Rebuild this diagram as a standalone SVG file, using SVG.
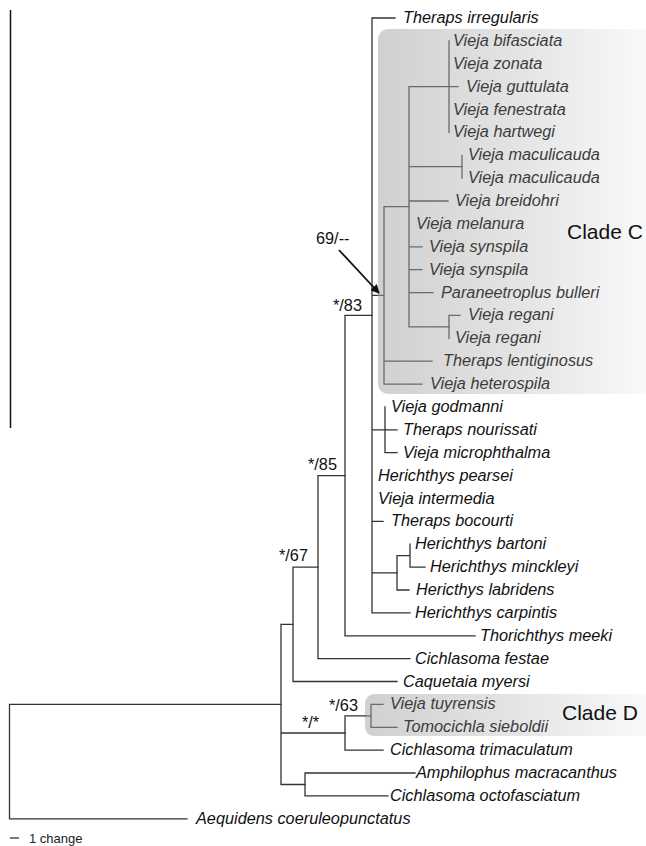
<svg xmlns="http://www.w3.org/2000/svg" width="646" height="846" viewBox="0 0 646 846">
<style>
.br{stroke:#333;stroke-width:1.3;fill:none;stroke-linecap:square}
.bi{stroke:#6a6a6a;stroke-width:1.3;fill:none;stroke-linecap:square}
.lf{font-family:"Liberation Sans",Arial,sans-serif;font-style:italic;font-size:16.3px;fill:#111}
.li{fill:#3c3c3c}
.sp{font-family:"Liberation Sans",Arial,sans-serif;font-size:16.3px;fill:#111}
.cl{font-family:"Liberation Sans",Arial,sans-serif;font-size:21px;fill:#111}
</style>
<defs>
<linearGradient id="boxg" x1="0" y1="0" x2="1" y2="0">
<stop offset="0" stop-color="#d0d0d0"/>
<stop offset="0.5" stop-color="#e4e4e4"/>
<stop offset="1" stop-color="#fbfbfb"/>
</linearGradient>
<marker id="ah" viewBox="0 0 10 10" refX="9" refY="5" markerWidth="9" markerHeight="9" markerUnits="userSpaceOnUse" orient="auto">
<path d="M0,0 L10,5 L0,10 z" fill="#111"/>
</marker>
</defs>
<rect width="646" height="846" fill="#fff"/>
<g id="clade-boxes">
<rect id="box-c" x="378" y="29" width="280" height="365" rx="10" fill="url(#boxg)"/>
<rect id="box-d" x="365" y="694" width="293" height="42" rx="9" fill="url(#boxg)"/>
</g>
<line x1="10.5" y1="10" x2="10.5" y2="428" stroke="#111" stroke-width="1.5"/>
<g id="connectors">
<path class="br" d="M9.5,704.4 V818.8 M9.5,818.8 H187 M9.5,704.4 H281"/>
<path class="br" d="M281,624.3 V784.5 M281,624.3 H293 M281,733 H345 M281,784.5 H305"/>
<path class="br" d="M305,773 V795.9 M305,773 H415 M305,795.9 H388"/>
<path class="br" d="M345,715.9 V750.2 M345,715.9 H365 M345,750.2 H383"/>
<path class="bi" d="M365,715.9 H371 M371,704.4 V727.3 M371,704.4 H383 M371,727.3 H397"/>
<path class="br" d="M293,567.1 V681.5 M293,567.1 H318 M293,681.5 H397"/>
<path class="br" d="M318,475.6 V658.6 M318,475.6 H345 M318,658.6 H410"/>
<path class="br" d="M345,315.4 V635.8 M345,315.4 H372 M345,635.8 H475"/>
<path class="br" d="M372,18 V612.9 M372,18 H395 M372,295.4 H378 M372,429.8 H385 M372,521.4 H383 M372,572.8 H397 M372,612.9 H410"/>
<path class="br" d="M385,407 V452.7 M385,429.8 H397 M385,452.7 H397"/>
<path class="br" d="M397,555.7 V590 M397,555.7 H410 M397,590 H409 M410,544.2 V567.1 M410,567.1 H425"/>
<path class="bi" d="M378,295.4 H384 M384,206.7 V384.1 M384,206.7 H409 M384,361.2 H432 M384,384.1 H422"/>
<path class="bi" d="M409,86.6 V326.9 M409,86.6 H458 M409,166.7 H462 M409,201 H448 M409,246.8 H422 M409,269.7 H422 M409,292.6 H433 M409,326.9 H449"/>
<path class="bi" d="M449,40.9 V132.4 M462,155.3 V178.2 M449,315.4 V338.3 M449,315.4 H460"/>
<line x1="339" y1="250" x2="379" y2="293" stroke="#111" stroke-width="1.8" marker-end="url(#ah)"/>
</g>
<g id="leaves">
<g id="n0"><text class="lf" x="403" y="23">Theraps irregularis</text></g>
<g id="n1"><text class="lf li" x="453" y="45.9">Vieja bifasciata</text></g>
<g id="n2"><text class="lf li" x="453" y="68.8">Vieja zonata</text></g>
<g id="n3"><text class="lf li" x="466" y="91.6">Vieja guttulata</text></g>
<g id="n4"><text class="lf li" x="453" y="114.5">Vieja fenestrata</text></g>
<g id="n5"><text class="lf li" x="453" y="137.4">Vieja hartwegi</text></g>
<g id="n6"><text class="lf li" x="468" y="160.3">Vieja maculicauda</text></g>
<g id="n7"><text class="lf li" x="468" y="183.2">Vieja maculicauda</text></g>
<g id="n8"><text class="lf li" x="455" y="206">Vieja breidohri</text></g>
<g id="n9"><text class="lf li" x="416" y="228.9">Vieja melanura</text></g>
<g id="n10"><text class="lf li" x="429" y="251.8">Vieja synspila</text></g>
<g id="n11"><text class="lf li" x="429" y="274.7">Vieja synspila</text></g>
<g id="n12"><text class="lf li" x="441" y="297.6">Paraneetroplus bulleri</text></g>
<g id="n13"><text class="lf li" x="468" y="320.4">Vieja regani</text></g>
<g id="n14"><text class="lf li" x="455" y="343.3">Vieja regani</text></g>
<g id="n15"><text class="lf li" x="443" y="366.2">Theraps lentiginosus</text></g>
<g id="n16"><text class="lf li" x="430" y="389.1">Vieja heterospila</text></g>
<g id="n17"><text class="lf" x="391" y="412">Vieja godmanni</text></g>
<g id="n18"><text class="lf" x="403" y="434.8">Theraps nourissati</text></g>
<g id="n19"><text class="lf" x="403" y="457.7">Vieja microphthalma</text></g>
<g id="n20"><text class="lf" x="378" y="480.6">Herichthys pearsei</text></g>
<g id="n21"><text class="lf" x="378" y="503.5">Vieja intermedia</text></g>
<g id="n22"><text class="lf" x="391" y="526.4">Theraps bocourti</text></g>
<g id="n23"><text class="lf" x="415" y="549.2">Herichthys bartoni</text></g>
<g id="n24"><text class="lf" x="430" y="572.1">Herichthys minckleyi</text></g>
<g id="n25"><text class="lf" x="416" y="595">Hericthys labridens</text></g>
<g id="n26"><text class="lf" x="415" y="617.9">Herichthys carpintis</text></g>
<g id="n27"><text class="lf" x="480" y="640.8">Thorichthys meeki</text></g>
<g id="n28"><text class="lf" x="415" y="663.6">Cichlasoma festae</text></g>
<g id="n29"><text class="lf" x="403" y="686.5">Caquetaia myersi</text></g>
<g id="n30"><text class="lf li" x="390" y="709.4">Vieja tuyrensis</text></g>
<g id="n31"><text class="lf li" x="403" y="732.3">Tomocichla sieboldii</text></g>
<g id="n32"><text class="lf" x="390" y="755.2">Cichlasoma trimaculatum</text></g>
<g id="n33"><text class="lf" x="416" y="778">Amphilophus macracanthus</text></g>
<g id="n34"><text class="lf" x="390" y="800.9">Cichlasoma octofasciatum</text></g>
<g id="n35"><text class="lf" x="196" y="823.8">Aequidens coeruleopunctatus</text></g>
</g>
<g id="support">
<text class="sp" x="316" y="244">69/--</text>
<text class="sp" x="333" y="311">*/83</text>
<text class="sp" x="308" y="470">*/85</text>
<text class="sp" x="279" y="561">*/67</text>
<text class="sp" x="329" y="711">*/63</text>
<text class="sp" x="302" y="728">*/*</text>
</g>
<g id="clade-labels">
<text class="cl" x="567" y="239">Clade C</text>
<text class="cl" x="562" y="720">Clade D</text>
</g>
<g id="scale">
<line x1="10" y1="838" x2="19" y2="838" stroke="#333" stroke-width="1.3"/>
<text x="29" y="843" font-family="Liberation Sans, Arial, sans-serif" font-size="13" fill="#222">1 change</text>
</g>
</svg>
